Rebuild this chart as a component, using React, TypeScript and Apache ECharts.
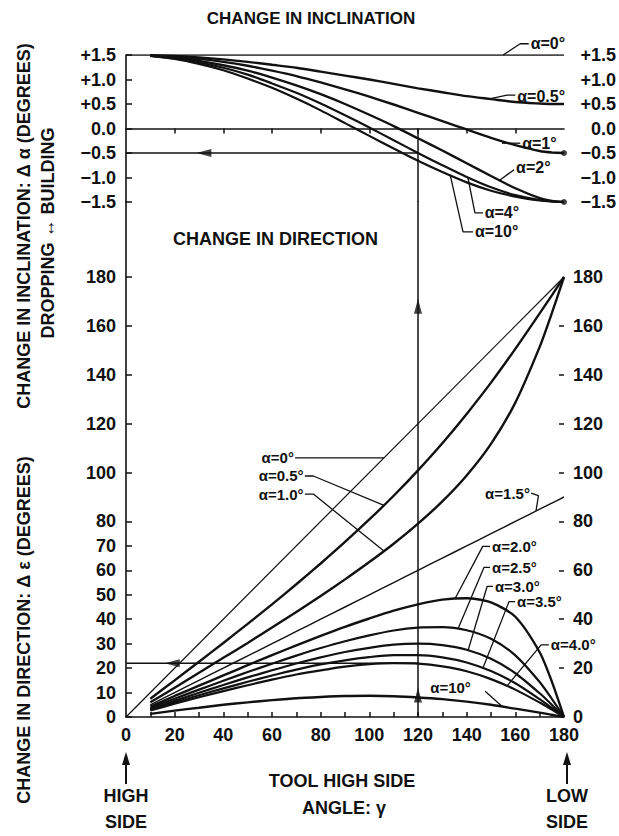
import React, { useEffect, useRef } from "react";
import * as echarts from "echarts";

// ---------- data ----------
// tool high side angle γ (degrees)
const GAMMA = [10, 20, 30, 40, 50, 60, 70, 80, 90, 100, 110, 120, 130, 140, 150, 160, 170, 175, 180];
const GAMMA_ENDS = [0, 180];

// change in inclination Δα (degrees), top panel
const INCL_A0 = [1.5, 1.5];
const INCL_A05 = [1.49, 1.48, 1.45, 1.41, 1.36, 1.3, 1.24, 1.16, 1.08, 1.0, 0.91, 0.82, 0.74, 0.66, 0.6, 0.54, 0.51, 0.5, 0.5];
const INCL_A1 = [1.49, 1.46, 1.42, 1.36, 1.28, 1.18, 1.07, 0.94, 0.8, 0.65, 0.49, 0.32, 0.15, -0.02, -0.19, -0.34, -0.46, -0.49, -0.5];
const INCL_A2 = [1.49, 1.45, 1.38, 1.29, 1.18, 1.04, 0.88, 0.7, 0.5, 0.28, 0.05, -0.2, -0.45, -0.71, -0.97, -1.22, -1.42, -1.48, -1.5];
const INCL_A4 = [1.48, 1.43, 1.35, 1.24, 1.1, 0.92, 0.73, 0.51, 0.27, 0.02, -0.24, -0.5, -0.75, -0.99, -1.2, -1.36, -1.46, -1.49, -1.5];
const INCL_A10 = [1.48, 1.42, 1.32, 1.19, 1.02, 0.83, 0.61, 0.37, 0.11, -0.15, -0.41, -0.66, -0.89, -1.1, -1.27, -1.39, -1.47, -1.49, -1.5];

// change in direction Δε (degrees), bottom panel
const DIR_A0 = [0, 180];
const DIR_A05 = [7.5, 15.0, 22.6, 30.3, 38.1, 46.1, 54.3, 62.8, 71.6, 80.8, 90.5, 100.9, 112.0, 124.0, 136.8, 150.6, 165.1, 172.5, 180];
const DIR_A10 = [6.0, 12.0, 18.1, 24.2, 30.3, 36.6, 43.0, 49.5, 56.3, 63.4, 70.9, 79.1, 88.2, 98.8, 111.7, 128.6, 151.4, 165.2, 180];
const DIR_A15 = [5, 10, 15, 20, 25, 30, 35, 40, 45, 50, 55, 60, 65, 70, 75, 80, 85, 87.5, 90];
const DIR_A20 = [4.3, 8.6, 12.8, 17.0, 21.2, 25.3, 29.3, 33.2, 36.9, 40.3, 43.5, 46.1, 48.0, 48.6, 46.9, 41.0, 26.5, 14.5, 0];
const DIR_A25 = [3.8, 7.5, 11.2, 14.8, 18.4, 21.8, 25.1, 28.2, 31.0, 33.4, 35.4, 36.6, 36.8, 35.5, 32.0, 25.2, 14.3, 7.4, 0];
const DIR_A30 = [3.3, 6.6, 9.9, 13.1, 16.2, 19.1, 21.9, 24.4, 26.6, 28.3, 29.6, 30.0, 29.4, 27.5, 23.8, 17.9, 9.7, 5.0, 0];
const DIR_A35 = [3.0, 6.0, 8.9, 11.7, 14.4, 17.0, 19.4, 21.5, 23.2, 24.5, 25.3, 25.3, 24.4, 22.3, 18.8, 13.8, 7.3, 3.7, 0];
const DIR_A40 = [2.7, 5.4, 8.1, 10.6, 13.0, 15.3, 17.4, 19.1, 20.6, 21.6, 22.0, 21.8, 20.7, 18.7, 15.5, 11.2, 5.9, 3.0, 0];
const DIR_A100 = [1.3, 2.6, 3.8, 5.0, 6.0, 6.9, 7.7, 8.2, 8.6, 8.7, 8.5, 8.0, 7.3, 6.3, 5.0, 3.4, 1.8, 0.9, 0];

// worked example: γ = 120° gives Δα = -0.5° and Δε = 22°
const EXAMPLE_GAMMA = 120;
const EXAMPLE_INCL = -0.5;
const EXAMPLE_DIR = 22;

// tick values
const TOP_X_TICKS = [20, 40, 60, 80, 100, 120, 140, 160];
const BOTTOM_X_TICKS = [10, 20, 30, 40, 50, 60, 70, 80, 90, 100, 110, 120, 130, 140, 150, 160, 170];
const DIR_LEFT_TICKS = [0, 10, 20, 30, 40, 50, 60, 70, 80, 100, 120, 140, 160, 180];
const DIR_RIGHT_TICKS = [20, 40, 60, 80, 100, 120, 140, 160];

// curve labels: text, leader line (data coords), text anchor (data coords)
const TOP_LABELS = [
  { text: "α=0°", leader: [[155, 1.5], [162, 1.73], [165.5, 1.73]], at: [166.3, 1.73], align: "left" },
  { text: "α=0.5°", leader: [[148.8, 0.6], [156.6, 0.68], [160, 0.68]], at: [160.8, 0.66], align: "left" },
  { text: "α=1°", leader: [[154.5, -0.3], [162, -0.3]], at: [162.8, -0.3], align: "left" },
  { text: "α=2°", leader: [[153.7, -1.05], [159.5, -0.84]], at: [160.3, -0.8], align: "left" },
  { text: "α=4°", leader: [[140.5, -1.0], [143.4, -1.72], [146.7, -1.72]], at: [147.4, -1.72], align: "left" },
  { text: "α=10°", leader: [[133.2, -0.94], [138.5, -2.11], [142.6, -2.11]], at: [143.4, -2.11], align: "left" },
];
const BOTTOM_LABELS = [
  { text: "α=0°", leader: [[69.5, 106], [106, 106]], at: [69, 106], align: "right" },
  { text: "α=0.5°", leader: [[73.5, 98.6], [77, 98.6], [106, 86.6]], at: [73, 98.6], align: "right" },
  { text: "α=1.0°", leader: [[73.5, 91.2], [77, 91.2], [106, 67.9]], at: [73, 91.2], align: "right" },
  { text: "α=1.5°", leader: [[166.5, 91.6], [169.5, 90.6], [168.5, 84.3]], at: [166, 91.6], align: "right" },
  { text: "α=2.0°", leader: [[149.6, 69.8], [146.6, 69.8], [135.2, 48.4]], at: [150.4, 69.8], align: "left" },
  { text: "α=2.5°", leader: [[149.6, 61.2], [147.1, 61.2], [136.5, 36.2]], at: [150.4, 61.2], align: "left" },
  { text: "α=3.0°", leader: [[150.8, 53.4], [148.4, 53.4], [140.6, 27.3]], at: [151.6, 53.4], align: "left" },
  { text: "α=3.5°", leader: [[159.9, 47.2], [157.4, 47.2], [146.7, 20.0]], at: [160.7, 47.2], align: "left" },
  { text: "α=4.0°", leader: [[173.8, 29.5], [170.6, 29.5], [156.6, 12.7]], at: [174.6, 29.5], align: "left" },
  { text: "α=10°", leader: [[147.6, 10.5], [154.5, 4.4]], at: [125, 11.9], align: "left" },
];

// ---------- styles ----------
const INK = "#111";
const FONT = "'Liberation Sans', Arial, Helvetica, sans-serif";
const labelFont = { color: INK, fontFamily: FONT, fontWeight: "bold" as const, fontSize: 18 };

const zip = (xs: number[], ys: number[]) => xs.map((x, i) => [x, ys[i]]);

function curve(id: string, grid: "top" | "bottom", xs: number[], ys: number[], width: number) {
  return {
    id,
    type: "line",
    xAxisIndex: grid === "top" ? 0 : 1,
    yAxisIndex: grid === "top" ? 0 : 2,
    data: zip(xs, ys),
    smooth: 0.25,
    symbol: "none",
    silent: true,
    lineStyle: { color: INK, width },
    z: 3,
  };
}

function segment(grid: "top" | "bottom", pts: number[][], width: number) {
  return {
    type: "line",
    xAxisIndex: grid === "top" ? 0 : 1,
    yAxisIndex: grid === "top" ? 0 : 2,
    data: pts,
    symbol: "none",
    silent: true,
    clip: false,
    lineStyle: { color: INK, width },
    z: 4,
  };
}

function arrowHead(grid: "top" | "bottom", pt: number[], rotate: number) {
  return {
    type: "scatter",
    xAxisIndex: grid === "top" ? 0 : 1,
    yAxisIndex: grid === "top" ? 0 : 2,
    data: [pt],
    symbol: "triangle",
    symbolSize: [8, 15],
    symbolRotate: rotate,
    silent: true,
    clip: false,
    itemStyle: { color: INK },
    z: 5,
  };
}

const fmtIncl = (v: number) => (v > 0 ? "+" + v.toFixed(1) : v < 0 ? "−" + Math.abs(v).toFixed(1) : "0.0");

export default function App() {
  const ref = useRef<HTMLDivElement>(null);

  useEffect(() => {
    if (!ref.current) return;
    const chart = echarts.init(ref.current, null, { renderer: "svg" });

    const series: any[] = [
      // top panel curves
      curve("top-a0", "top", GAMMA_ENDS, INCL_A0, 1.6),
      curve("top-a05", "top", GAMMA, INCL_A05, 2.4),
      curve("top-a1", "top", GAMMA, INCL_A1, 2.4),
      curve("top-a2", "top", GAMMA, INCL_A2, 2.4),
      curve("top-a4", "top", GAMMA, INCL_A4, 2.2),
      curve("top-a10", "top", GAMMA, INCL_A10, 2.2),
      // bottom panel curves
      curve("bot-a0", "bottom", GAMMA_ENDS, DIR_A0, 1.2),
      curve("bot-a05", "bottom", GAMMA, DIR_A05, 2.4),
      curve("bot-a10", "bottom", GAMMA, DIR_A10, 2.4),
      curve("bot-a15", "bottom", GAMMA, DIR_A15, 1.4),
      curve("bot-a20", "bottom", GAMMA, DIR_A20, 2.4),
      curve("bot-a25", "bottom", GAMMA, DIR_A25, 2.2),
      curve("bot-a30", "bottom", GAMMA, DIR_A30, 2.2),
      curve("bot-a35", "bottom", GAMMA, DIR_A35, 2.2),
      curve("bot-a40", "bottom", GAMMA, DIR_A40, 2.2),
      curve("bot-a100", "bottom", GAMMA, DIR_A100, 2.4),
      // worked example reference lines
      segment("top", [[0, EXAMPLE_INCL], [EXAMPLE_GAMMA, EXAMPLE_INCL]], 1.5),
      segment("top", [[EXAMPLE_GAMMA, 0], [EXAMPLE_GAMMA, -1.5]], 1.5),
      segment("bottom", [[EXAMPLE_GAMMA, 0], [EXAMPLE_GAMMA, 211]], 1.5),
      segment("bottom", [[0, EXAMPLE_DIR], [EXAMPLE_GAMMA, EXAMPLE_DIR]], 1.5),
      // left axis continues through the gap between the panels
      segment("bottom", [[0, 180], [0, 211]], 1.6),
      arrowHead("top", [32, EXAMPLE_INCL], 90),
      arrowHead("bottom", [19, EXAMPLE_DIR], 90),
      arrowHead("bottom", [EXAMPLE_GAMMA, 9], 0),
      arrowHead("bottom", [EXAMPLE_GAMMA, 168], 0),
      {
        type: "scatter",
        xAxisIndex: 0,
        yAxisIndex: 0,
        data: [[180, INCL_A1[INCL_A1.length - 1]], [180, INCL_A4[INCL_A4.length - 1]]],
        symbol: "circle",
        symbolSize: 6,
        silent: true,
        clip: false,
        itemStyle: { color: INK },
        z: 5,
      },
    ];
    TOP_LABELS.forEach((l) => series.push(segment("top", l.leader, 1.3)));
    BOTTOM_LABELS.forEach((l) => series.push(segment("bottom", l.leader, 1.3)));

    const axisLine = { lineStyle: { color: INK, width: 1.6 } };

    chart.setOption({
      animation: false,
      backgroundColor: "#fff",
      grid: [
        { left: 126, top: 55, width: 438, height: 147 },
        { left: 126, top: 277, width: 438, height: 440 },
      ],
      xAxis: [
        {
          gridIndex: 0,
          type: "value",
          min: 0,
          max: 180,
          axisLine: { ...axisLine, onZero: true },
          axisTick: { customValues: TOP_X_TICKS, length: 5, lineStyle: { color: INK, width: 1.5 } },
          axisLabel: { show: false },
          splitLine: { show: false },
        },
        {
          gridIndex: 1,
          type: "value",
          min: 0,
          max: 180,
          interval: 20,
          axisLine: { ...axisLine, onZero: false },
          axisTick: { customValues: BOTTOM_X_TICKS, inside: true, length: 5, lineStyle: { color: INK, width: 1.5 } },
          axisLabel: { ...labelFont, margin: 9 },
          splitLine: { show: false },
        },
      ],
      yAxis: [
        {
          gridIndex: 0,
          type: "value",
          min: -1.5,
          max: 1.5,
          interval: 0.5,
          axisLine: { ...axisLine, show: true },
          axisTick: { show: true, inside: true, length: 6, lineStyle: { color: INK, width: 1.5 } },
          axisLabel: { ...labelFont, margin: 10, formatter: fmtIncl },
          splitLine: { show: false },
        },
        {
          gridIndex: 0,
          type: "value",
          position: "right",
          min: -1.5,
          max: 1.5,
          interval: 0.5,
          axisLine: { show: false },
          axisTick: { show: false },
          axisLabel: { ...labelFont, margin: 52, align: "right", formatter: fmtIncl },
          splitLine: { show: false },
        },
        {
          gridIndex: 1,
          type: "value",
          min: 0,
          max: 180,
          interval: 10,
          axisLine: { ...axisLine, show: true },
          axisTick: { show: true, customValues: DIR_LEFT_TICKS, inside: true, length: 6, lineStyle: { color: INK, width: 1.5 } },
          axisLabel: { ...labelFont, margin: 10, customValues: DIR_LEFT_TICKS },
          splitLine: { show: false },
        },
        {
          gridIndex: 1,
          type: "value",
          position: "right",
          min: 0,
          max: 180,
          interval: 20,
          axisLine: { show: false },
          axisTick: { show: true, customValues: DIR_RIGHT_TICKS, inside: true, length: 5, lineStyle: { color: INK, width: 1.5 } },
          axisLabel: { ...labelFont, margin: 9 },
          splitLine: { show: false },
        },
      ],
      series,
    });

    const topPx = (p: number[]) => chart.convertToPixel({ seriesId: "top-a05" }, p) as number[];
    const botPx = (p: number[]) => chart.convertToPixel({ seriesId: "bot-a05" }, p) as number[];

    const text = (x: number, y: number, t: string, size: number, align: string, rotation = 0) => ({
      type: "text",
      x,
      y,
      rotation,
      silent: true,
      z: 10,
      style: {
        text: t,
        fill: INK,
        fontFamily: FONT,
        fontWeight: "bold",
        fontSize: size,
        align,
        verticalAlign: "middle",
        textAlign: align,
        textVerticalAlign: "middle",
      },
    });

    const graphics: any[] = [];
    TOP_LABELS.forEach((l) => {
      const [x, y] = topPx(l.at);
      graphics.push(text(x, y, l.text, 16, l.align));
    });
    BOTTOM_LABELS.forEach((l) => {
      const [x, y] = botPx(l.at);
      graphics.push(text(x, y, l.text, 15, l.align));
    });

    // titles
    graphics.push(text(311, 18, "CHANGE IN INCLINATION", 17, "center"));
    graphics.push(text(173, 239, "CHANGE IN DIRECTION", 18, "left"));
    graphics.push(text(24, 226, "CHANGE IN INCLINATION: Δ α (DEGREES)", 18, "center", Math.PI / 2));
    graphics.push(text(48, 233, "DROPPING ↔ BUILDING", 18, "center", Math.PI / 2));
    graphics.push(text(24, 630, "CHANGE IN DIRECTION: Δ ε (DEGREES)", 18, "center", Math.PI / 2));
    graphics.push(text(342, 781, "TOOL HIGH SIDE", 18, "center"));
    graphics.push(text(344, 808, "ANGLE: γ", 18, "center"));

    // HIGH SIDE / LOW SIDE arrows
    const [xHigh] = botPx([0, 0]);
    const [xLow] = botPx([180, 0]);
    [
      { x: xHigh, w1: "HIGH" },
      { x: xLow + 3, w1: "LOW" },
    ].forEach(({ x, w1 }) => {
      graphics.push({
        type: "line",
        silent: true,
        shape: { x1: x, y1: 784, x2: x, y2: 760 },
        style: { stroke: INK, lineWidth: 2 },
      });
      graphics.push({
        type: "polygon",
        silent: true,
        shape: { points: [[x, 752], [x - 4, 765], [x + 4, 765]] },
        style: { fill: INK },
      });
      graphics.push(text(x, 796, w1, 18, "center"));
      graphics.push(text(x, 822, "SIDE", 18, "center"));
    });

    chart.setOption({ graphic: graphics });

    return () => chart.dispose();
  }, []);

  return (
    <div
      ref={ref}
      style={{ position: "absolute", left: 0, top: 0, width: 619, height: 836, background: "#fff" }}
    />
  );
}
